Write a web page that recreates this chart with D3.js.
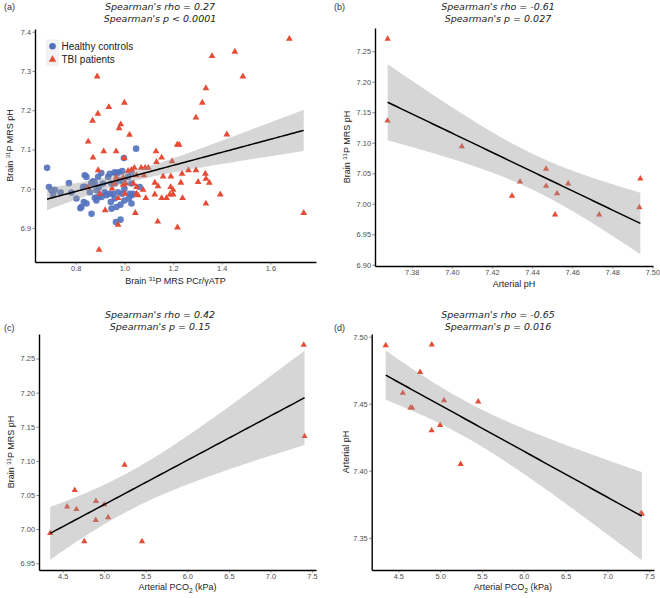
<!DOCTYPE html>
<html><head><meta charset="utf-8">
<script src="https://cdn.jsdelivr.net/npm/d3@7"></script>
<style>body{margin:0;background:#fff}svg{display:block}</style>
</head><body>
<svg id="chart" width="660" height="598"></svg>
<script>
// ---------- DATA ----------
// Panel (a): healthy controls
const hcPCr = [0.682,0.690,0.700,0.714,0.707,0.738,0.772,0.782,0.803,0.837,0.844,0.830,0.838,0.823,0.833,0.819,0.844,0.865,0.871,0.878,0.864,0.858,0.885,0.878,0.892,0.885,0.892,0.896,0.912,0.919,0.933,0.940,0.960,0.967,0.947,0.960,0.926,0.940,0.953,0.960,0.977,0.991,0.981,0.995,0.974,0.991,0.967,0.984,0.965,0.984,0.944,0.906,1.000,1.015,1.029,1.022,1.000,1.018,1.030,1.063,1.048,1.029,1.036,1.029,0.998,0.905,0.947];
const hcPH  = [7.053,7.004,6.996,6.997,6.985,6.990,7.014,6.990,6.975,7.034,7.030,7.004,7.005,6.953,6.966,6.950,6.962,6.936,7.019,7.015,7.014,6.991,6.996,6.977,6.979,6.970,7.030,7.004,7.013,6.991,7.030,7.038,7.042,7.038,7.013,7.013,6.983,6.987,6.987,6.975,7.042,7.045,7.021,7.017,6.991,6.987,6.953,6.959,6.915,6.921,6.966,6.979,7.000,7.030,7.042,6.987,6.970,6.975,6.983,7.004,7.102,7.013,6.987,6.962,7.078,7.040,6.949];
// Panel (a): TBI patients
const tbiPCr = [0.888,1.678,1.454,1.360,1.487,1.335,1.320,1.294,1.421,1.000,0.936,0.891,0.869,0.985,0.978,1.021,0.851,1.217,1.225,0.915,0.966,1.130,0.871,0.999,1.153,1.196,1.132,0.892,1.015,1.041,1.069,1.085,1.098,1.050,1.080,1.159,1.191,1.237,1.263,1.294,1.333,1.335,1.303,1.349,1.125,1.138,1.232,1.190,1.200,1.050,1.077,1.050,1.056,1.125,1.187,1.200,1.153,1.173,1.239,1.088,1.394,1.335,1.045,1.137,1.218,0.921,0.974,0.896,1.737,0.974,1.037,1.006,0.995,1.029,0.995,0.960,0.949,0.899,1.002,0.851,0.966];
const tbiPH  = [7.286,7.382,7.349,7.338,7.286,7.256,7.219,7.181,7.138,7.219,7.208,7.191,7.173,7.164,7.154,7.137,7.120,7.112,7.112,7.095,7.095,7.095,7.079,7.078,7.079,7.070,7.068,7.047,7.045,7.053,7.053,7.053,7.053,7.034,7.034,7.031,7.031,7.038,7.047,7.047,7.038,7.025,7.017,7.015,7.015,7.006,7.015,7.004,6.997,7.004,6.997,6.987,6.983,6.985,6.985,6.985,6.976,6.976,6.976,6.976,6.985,6.962,6.938,6.916,6.901,6.945,6.908,6.844,6.938,6.976,7.013,7.013,7.010,7.048,7.028,7.013,7.000,6.987,6.987,7.003,7.028];
// Panels (b)-(d): TBI patients with arterial blood gas
const patArtPH   = [7.368,7.368,7.405,7.430,7.434,7.447,7.447,7.4525,7.4515,7.458,7.4735,7.494,7.4935];
const patBrainPH = [7.270,7.136,7.094,7.013,7.036,7.057,7.029,7.017,6.982,7.033,6.982,7.041,6.994];
const patPCO2    = [7.40,7.41,5.245,4.898,5.000,4.645,4.665,5.047,5.455,4.554,4.760,4.900,4.350];

const panelLabels = ["(a)","(b)","(c)","(d)"];
const titleRho = ["Spearman's rho = 0.27","Spearman's rho = -0.61","Spearman's rho = 0.42","Spearman's rho = -0.65"];
const titleP   = ["Spearman's p < 0.0001","Spearman's p = 0.027","Spearman's p = 0.15","Spearman's p = 0.016"];
const legendLabels = ["Healthy controls","TBI patients"];

const aXTicks = [0.8,1.0,1.2,1.4,1.6];
const aYTicks = [6.9,7.0,7.1,7.2,7.3,7.4];
const bXTicks = [7.38,7.40,7.42,7.44,7.46,7.48,7.50];
const bYTicks = [6.90,6.95,7.00,7.05,7.10,7.15,7.20,7.25];
const cXTicks = [4.5,5.0,5.5,6.0,6.5,7.0,7.5];
const cYTicks = [6.95,7.00,7.05,7.10,7.15,7.20,7.25];
const dXTicks = [4.5,5.0,5.5,6.0,6.5,7.0,7.5];
const dYTicks = [7.35,7.40,7.45,7.50];

// ---------- HELPERS ----------
const RED = "#E64B35", BLUE = "#5271BC";
const svg = d3.select("#chart");
const AX_FONT = "'Liberation Sans', Arial, sans-serif";

function tQuant975(df){
  const z = 1.959964;
  const z3=z**3, z5=z**5, z7=z**7, z9=z**9;
  return z + (z3+z)/(4*df) + (5*z5+16*z3+3*z)/(96*df*df)
    + (3*z7+19*z5+17*z3-15*z)/(384*df**3)
    + (79*z9+776*z7+1482*z5-1920*z3-945*z)/(92160*df**4);
}
function lmBand(xs, ys){
  const n = xs.length;
  const mx = d3.mean(xs), my = d3.mean(ys);
  let sxx=0, sxy=0;
  for(let i=0;i<n;i++){ sxx+=(xs[i]-mx)**2; sxy+=(xs[i]-mx)*(ys[i]-my); }
  const b = sxy/sxx, a = my - b*mx;
  let sse=0; for(let i=0;i<n;i++){ sse += (ys[i]-a-b*xs[i])**2; }
  const s = Math.sqrt(sse/(n-2)), t = tQuant975(n-2);
  const [x0,x1] = d3.extent(xs);
  const out=[];
  for(let k=0;k<=80;k++){
    const x = x0 + (x1-x0)*k/80;
    const f = a + b*x;
    const se = s*Math.sqrt(1/n + (x-mx)**2/sxx);
    out.push({x, f, lo:f-t*se, hi:f+t*se});
  }
  return out;
}

function panel(cfg){
  const x = d3.scaleLinear().domain(cfg.xd).range(cfg.xr);
  const y = d3.scaleLinear().domain(cfg.yd).range(cfg.yr);
  const g = svg.append("g");

  // points
  cfg.series.forEach(s=>{
    const sym = d3.symbol().type(s.shape==="circle"?d3.symbolCircle:d3.symbolTriangle).size(s.size);
    g.append("g").selectAll("path").data(s.xs.map((v,i)=>[v,s.ys[i]])).join("path")
      .attr("d", sym)
      .attr("transform", d=>`translate(${x(d[0])},${y(d[1])})`)
      .attr("fill", s.color).attr("fill-opacity", s.opacity||1);
  });

  // smooth
  const band = lmBand(cfg.fitX, cfg.fitY);
  g.append("path").datum(band)
    .attr("d", d3.area().x(d=>x(d.x)).y0(d=>y(d.lo)).y1(d=>y(d.hi)))
    .attr("fill","#999999").attr("fill-opacity",0.4);
  g.append("path").datum(band)
    .attr("d", d3.line().x(d=>x(d.x)).y(d=>y(d.f)))
    .attr("fill","none").attr("stroke","#000").attr("stroke-width",1.5);

  // axes
  const xa = g.append("g").attr("transform",`translate(0,${cfg.yr[0]})`)
    .call(d3.axisBottom(x).tickValues(cfg.xt).tickFormat(d3.format(cfg.xf)).tickSize(2.5).tickSizeOuter(0).tickPadding(1.5));
  const ya = g.append("g").attr("transform",`translate(${cfg.xr[0]},0)`)
    .call(d3.axisLeft(y).tickValues(cfg.yt).tickFormat(d3.format(cfg.yf)).tickSize(2.5).tickSizeOuter(0).tickPadding(1.5));
  [xa,ya].forEach(a=>{
    a.select(".domain").attr("stroke","#000").attr("stroke-width",1.4);
    a.selectAll(".tick line").attr("stroke","#333").attr("stroke-width",0.6);
    a.selectAll(".tick text").attr("fill","#4d4d4d").style("font-family",AX_FONT).style("font-size","7.4px");
  });

  // axis titles
  const xt = g.append("text").attr("x",(cfg.xr[0]+cfg.xr[1])/2).attr("y",cfg.xTitleY)
    .attr("text-anchor","middle").attr("fill","#222").style("font-family",AX_FONT).style("font-size","9px");
  cfg.xTitle(xt);
  const yt = g.append("text").attr("transform",`translate(${cfg.yTitleX},${(cfg.yr[0]+cfg.yr[1])/2}) rotate(-90)`)
    .attr("text-anchor","middle").attr("fill","#222").style("font-family",AX_FONT).style("font-size","9px");
  cfg.yTitle(yt);

  // panel title
  [titleRho[cfg.i], titleP[cfg.i]].forEach((t,j)=>{
    g.append("text").attr("x",cfg.titleX).attr("y",cfg.titleY + j*12)
      .attr("text-anchor","middle").attr("fill","#222")
      .style("font-family","'DejaVu Sans', Verdana, sans-serif").style("font-style","italic").style("font-size","9.5px")
      .text(t);
  });
  g.append("text").attr("x",cfg.labX).attr("y",cfg.labY).attr("fill","#333")
    .style("font-family",AX_FONT).style("font-size","9px").text(panelLabels[cfg.i]);
  return {x,y,g};
}

function brainPH(t){ t.append("tspan").text("Brain ");
  t.append("tspan").attr("font-size","6px").attr("dy",-3).text("31");
  t.append("tspan").attr("dy",3).text("P MRS pH"); }
function pco2(t){ t.append("tspan").text("Arterial PCO");
  t.append("tspan").attr("font-size","6.5px").attr("dy",2.5).text("2");
  t.append("tspan").attr("dy",-2.5).text(" (kPa)"); }

// (a)
const pa = panel({i:0, xd:[0.6325,1.7875], yd:[6.813,7.407], xr:[35,316], yr:[262,29],
  xt:aXTicks, yt:aYTicks, xf:".1f", yf:".1f",
  series:[{xs:hcPCr, ys:hcPH, shape:"circle", size:34, color:BLUE, opacity:0.9},
          {xs:tbiPCr, ys:tbiPH, shape:"triangle", size:20, color:RED}],
  fitX: hcPCr.concat(tbiPCr), fitY: hcPH.concat(tbiPH),
  xTitleY:284, yTitleX:13, titleX:160, titleY:10, labX:4, labY:10,
  xTitle:t=>{ t.append("tspan").text("Brain ");
    t.append("tspan").attr("font-size","6px").attr("dy",-3).text("31");
    t.append("tspan").attr("dy",3).text("P MRS PCr/γATP"); },
  yTitle:brainPH});

// legend (a)
const lg = svg.append("g");
[0,1].forEach(i=>{
  lg.append("rect").attr("x",46).attr("y",39.5+i*13.3).attr("width",13).attr("height",13.3).attr("fill","#f2f2f2");
});
lg.append("path").attr("d",d3.symbol().type(d3.symbolCircle).size(34)()).attr("transform","translate(52.5,46.2)").attr("fill",BLUE);
lg.append("path").attr("d",d3.symbol().type(d3.symbolTriangle).size(24)()).attr("transform","translate(52.5,59.5)").attr("fill",RED);
legendLabels.forEach((l,i)=>{
  lg.append("text").attr("x",61.5).attr("y",50+i*13.4).attr("fill","#222")
    .style("font-family",AX_FONT).style("font-size","10px").text(l);
});

// (b)
panel({i:1, xd:[7.3617,7.5003], yd:[6.898,7.288], xr:[375,653], yr:[266,28],
  xt:bXTicks, yt:bYTicks, xf:".2f", yf:".2f",
  series:[{xs:patArtPH, ys:patBrainPH, shape:"triangle", size:17, color:RED}],
  fitX:patArtPH, fitY:patBrainPH,
  xTitleY:287, yTitleX:350, titleX:498, titleY:10, labX:334, labY:10,
  xTitle:t=>t.text("Arterial pH"), yTitle:brainPH});

// (c)
panel({i:2, xd:[4.215,7.548], yd:[6.94,7.286], xr:[39,316], yr:[570,334],
  xt:cXTicks, yt:cYTicks, xf:".1f", yf:".2f",
  series:[{xs:patPCO2, ys:patBrainPH, shape:"triangle", size:17, color:RED}],
  fitX:patPCO2, fitY:patBrainPH,
  xTitleY:590, yTitleX:14, titleX:160, titleY:317.5, labX:4, labY:330.5,
  xTitle:pco2, yTitle:brainPH});

// (d)
panel({i:3, xd:[4.182,7.556], yd:[7.326,7.502], xr:[371.7,654], yr:[570,334],
  xt:dXTicks, yt:dYTicks, xf:".1f", yf:".2f",
  series:[{xs:patPCO2, ys:patArtPH, shape:"triangle", size:17, color:RED}],
  fitX:patPCO2, fitY:patArtPH,
  xTitleY:590, yTitleX:349, titleX:498, titleY:317.5, labX:334, labY:330.5,
  xTitle:pco2, yTitle:t=>t.text("Arterial pH")});
</script>
</body></html>
